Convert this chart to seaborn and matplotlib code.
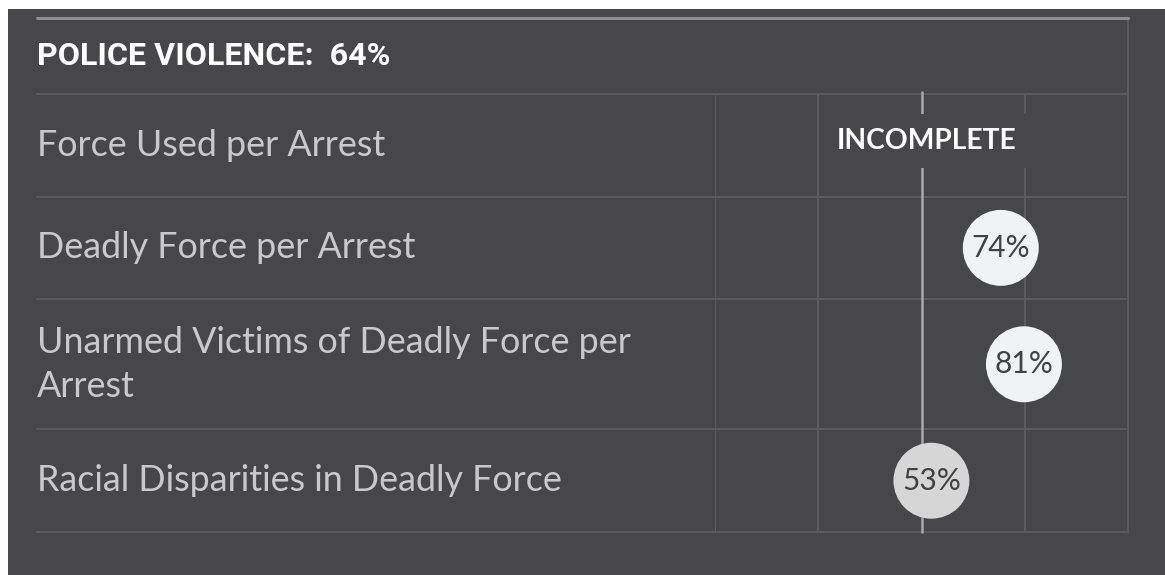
import numpy as np
import pandas as pd
import matplotlib
matplotlib.use("Agg")
import matplotlib.pyplot as plt
import seaborn as sns
from matplotlib.transforms import blended_transform_factory
from matplotlib.patches import Rectangle
from matplotlib.lines import Line2D

# ---------------- data ----------------
title = "POLICE VIOLENCE:  64%"
categories = [
    "Force Used per Arrest",
    "Deadly Force per Arrest",
    "Unarmed Victims of Deadly Force per\nArrest",
    "Racial Disparities in Deadly Force",
]
scores = [np.nan, 74, 81, 53]
missing_label = "INCOMPLETE"

# ---------------- style ----------------
BG = "#474749"
GRID = "#5b5b5d"
CENTER = "#a9a9a9"
LABEL = "#c9c9c9"
W, H = 1165, 575

sns.set_theme(style="dark", rc={"axes.facecolor": BG, "figure.facecolor": BG})
plt.rcParams["font.family"] = ["Lato", "DejaVu Sans"]

fig = plt.figure(figsize=(W / 100, H / 100), dpi=100, facecolor=BG)


def fx(px):
    return px / W


def fy(py):
    return 1 - py / H


# white margins at left / top as in the reference screenshot
fig.patches.append(Rectangle((0, 0), fx(8), 1, transform=fig.transFigure,
                             facecolor="white", edgecolor="none", zorder=0))
fig.patches.append(Rectangle((0, fy(9)), 1, 9 / H, transform=fig.transFigure,
                             facecolor="white", edgecolor="none", zorder=0))

ax_left, ax_right, ax_top, ax_bottom = 715, 1128, 94, 532
ax = fig.add_axes([fx(ax_left), fy(ax_bottom), fx(ax_right) - fx(ax_left),
                   fy(ax_top) - fy(ax_bottom)])
ax.set_facecolor(BG)
for s in ax.spines.values():
    s.set_visible(False)

# row layout: two-line labels get a taller row
nlines = [c.count("\n") + 1 for c in categories]
heights = [1 + 0.27 * (n - 1) for n in nlines]
bounds = np.concatenate([[0], np.cumsum(heights)])
centers = (bounds[:-1] + bounds[1:]) / 2

df = pd.DataFrame({"category": categories, "score": scores, "y": centers})
df["band"] = np.where(df["score"] < 60, "low", "high")
plot_df = df.dropna(subset=["score"])

xmin, xmax = -12.5, 112.5
ax.set_xlim(xmin, xmax)
ax.set_ylim(bounds[-1], 0)

# vertical grid lines
grid_x = np.linspace(xmin, xmax, 5)
top_ext = 1 + (ax_top - 18) / (ax_bottom - ax_top)
for gx in grid_x:
    if np.isclose(gx, 50):
        ax.axvline(gx, color=CENTER, lw=1.8, zorder=2, ymin=0, ymax=1.005, clip_on=False)
    elif np.isclose(gx, xmax):
        ax.axvline(gx, color=GRID, lw=1.5, zorder=1, ymin=0, ymax=top_ext, clip_on=False)
    else:
        ax.axvline(gx, color=GRID, lw=1.5, zorder=1)

# horizontal row lines extending to the label column
lab_x = 37
ext = -(ax_left - lab_x) / (ax_right - ax_left)
for b in bounds:
    ax.axhline(b, xmin=ext, xmax=1, color=GRID, lw=1.5, zorder=1, clip_on=False)

# top rule
fig.lines.append(Line2D([fx(lab_x), fx(ax_right)], [fy(18), fy(18)],
                        transform=fig.transFigure, color="#8e8e8e", lw=2.2))

# title
fig.text(fx(lab_x), fy(56), title, ha="left", va="center", color="white",
         fontsize=23.2, fontweight="bold",
         family=["Roboto", "DejaVu Sans"])

# row labels
trans = blended_transform_factory(fig.transFigure, ax.transData)
for cat, yc in zip(df["category"], df["y"]):
    ax.text(fx(lab_x), yc, cat, transform=trans, ha="left", va="center",
            color=LABEL, fontsize=25.8, linespacing=1.42, clip_on=False)

# circles
sns.scatterplot(data=plot_df, x="score", y="y", hue="band",
                palette={"low": "#d6d6d6", "high": "#f1f2f4"},
                s=2990, linewidth=0, legend=False, ax=ax, zorder=4, clip_on=False)
for sc, yc in zip(plot_df["score"], plot_df["y"]):
    ax.text(sc, yc, f"{sc:.0f}%", ha="center", va="center", color="#424242",
            fontsize=21.5, zorder=5)

# missing value label
for sc, yc in zip(df["score"], df["y"]):
    if np.isnan(sc):
        ax.text(51.4, yc - 0.04, missing_label, ha="center", va="center",
                color="white", fontsize=20.3, fontweight="bold", zorder=3,
                bbox=dict(boxstyle="square,pad=0.5", fc=BG, ec="none"))

ax.set_xticks([])
ax.set_yticks([])
ax.set_xlabel("")
ax.set_ylabel("")

fig.savefig("out.png", dpi=100, facecolor=fig.get_facecolor())
